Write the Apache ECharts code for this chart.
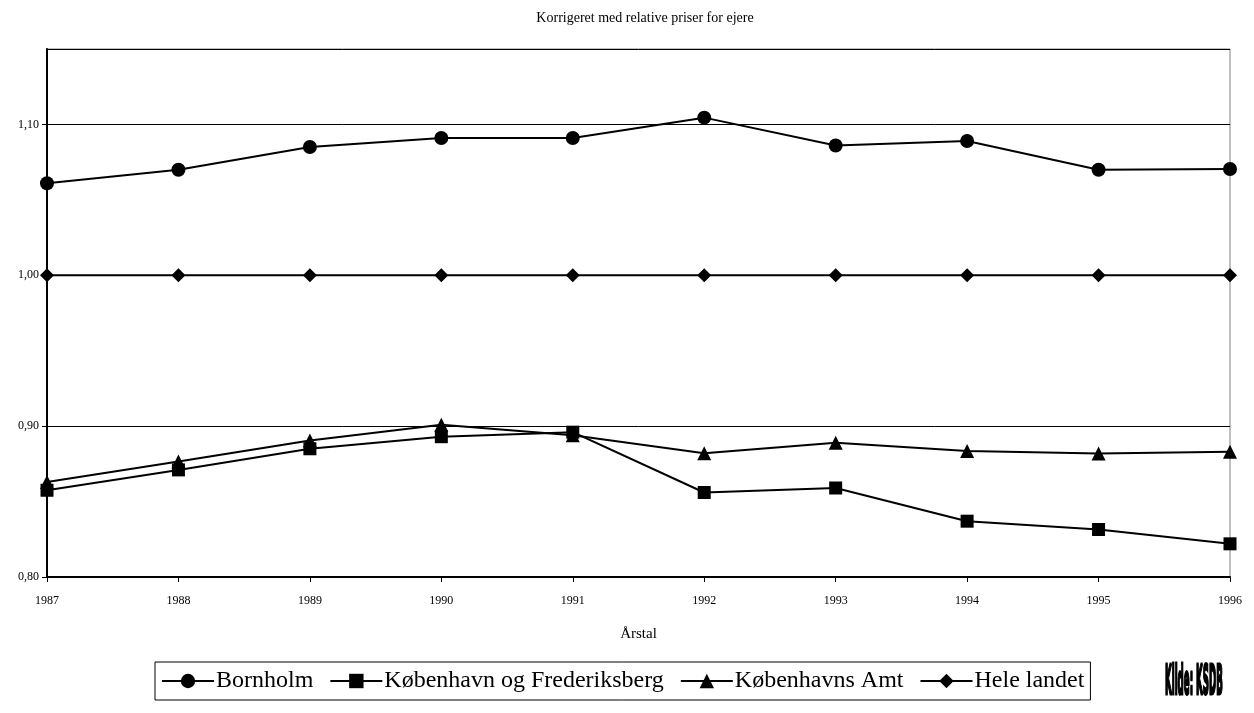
<!DOCTYPE html>
<html><head><meta charset="utf-8">
<script src="https://cdn.jsdelivr.net/npm/echarts@6/dist/echarts.min.js"></script>
<style>html,body{margin:0;padding:0;background:#fff}#c{width:1254px;height:713px}</style>
</head><body><div id="c"></div>
<script>
const years = ['1987','1988','1989','1990','1991','1992','1993','1994','1995','1996'];
const bornholm = [1.061, 1.070, 1.085, 1.091, 1.091, 1.1045, 1.086, 1.089, 1.070, 1.0705];
const kbhFrb = [0.8575, 0.871, 0.885, 0.893, 0.896, 0.856, 0.859, 0.837, 0.8315, 0.822];
const kbhAmt = [0.863, 0.8765, 0.8905, 0.901, 0.894, 0.882, 0.889, 0.8835, 0.8818, 0.883];
const heleLandet = [1.00, 1.00, 1.00, 1.00, 1.00, 1.00, 1.00, 1.00, 1.00, 1.00];
const names = ['Bornholm', 'København og Frederiksberg', 'Københavns Amt', 'Hele landet'];
const serif = '"Liberation Serif", "DejaVu Serif", serif';

function mk(name, data, symbol, size) {
  return {
    name, type: 'line', data, symbol, symbolSize: size,
    lineStyle: { color: '#000', width: 2 },
    itemStyle: { color: '#000' },
    emphasis: { disabled: true }, animation: false
  };
}
const chart = echarts.init(document.getElementById('c'));
chart.setOption({
  animation: false,
  title: { text: 'Korrigeret med relative priser for ejere', left: 640, textAlign: 'center', top: 6,
    textStyle: { fontFamily: serif, fontSize: 14, fontWeight: 'normal', color: '#000' } },
  grid: { left: 47, right: 24, top: 49, bottom: 136, show: true, borderColor: '#808080', borderWidth: 1 },
  xAxis: {
    type: 'category', data: years, boundaryGap: false,
    name: 'Årstal', nameLocation: 'middle', nameGap: 50,
    nameTextStyle: { fontFamily: serif, fontSize: 15, color: '#000' },
    axisLine: { lineStyle: { color: '#000', width: 2 } },
    axisTick: { show: true, length: 5, lineStyle: { color: '#000' }, alignWithLabel: true },
    axisLabel: { fontFamily: serif, fontSize: 12, color: '#000', margin: 18 },
    splitLine: { show: false }
  },
  yAxis: {
    type: 'value', min: 0.8, max: 1.15, interval: 0.1,
    axisLine: { show: true, lineStyle: { color: '#000', width: 2 } },
    axisTick: { show: true, length: 5, lineStyle: { color: '#000' } },
    axisLabel: { fontFamily: serif, fontSize: 12, color: '#000', margin: 8, showMaxLabel: false,
      formatter: v => v.toFixed(2).replace('.', ',') },
    splitLine: { show: true, lineStyle: { color: '#000', width: 1 } }
  },
  legend: {
    data: names, left: 155, top: 662,
    orient: 'horizontal',
    itemWidth: 52, itemHeight: 18, itemGap: 16,
    padding: [7, 6, 7, 6],
    borderColor: '#000', borderWidth: 1,
    textStyle: { fontFamily: serif, fontSize: 24, color: '#000', padding: [0, 0, 0, -3] }
  },
  graphic: [{
    type: 'text', x: 1165, y: 663, scaleX: 0.3, scaleY: 1.28,
    style: { text: 'Kilde: KSDB', font: 'bold 32px "DejaVu Sans Condensed", "DejaVu Sans", sans-serif',
      fill: '#000', stroke: '#000', lineWidth: 2.5, verticalAlign: 'top' }
  }],
  series: [
    mk(names[0], bornholm, 'circle', 14),
    mk(names[1], kbhFrb, 'rect', 13),
    mk(names[2], kbhAmt, 'triangle', 14),
    mk(names[3], heleLandet, 'diamond', 14)
  ]
});
</script></body></html>
